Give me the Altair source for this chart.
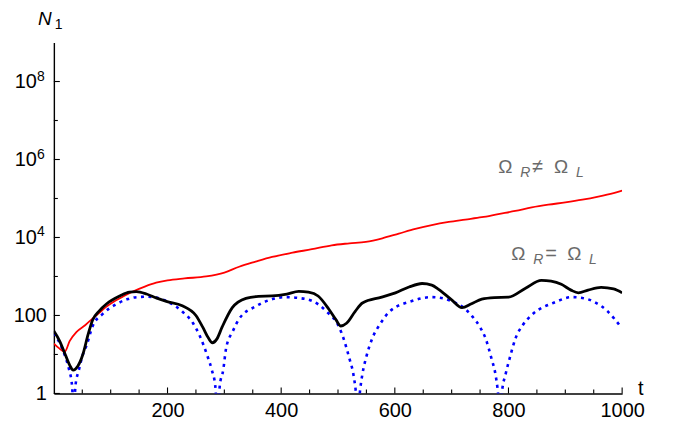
import altair as alt
import pandas as pd

# ---- data (t, log10 N) ----
red_t = [0, 10, 19, 28, 40, 55, 68, 80, 92, 106, 121, 140, 160, 180, 200, 230, 268, 300,
         326, 355, 384, 420, 454, 489, 520, 549, 578, 607, 636, 665, 695, 724, 753, 782,
         812, 841, 870, 900, 930, 958, 985, 1000]
red_log = [1.28, 1.15, 1.07, 1.35, 1.58, 1.75, 1.92, 2.07, 2.22, 2.36, 2.48, 2.62, 2.74, 2.84,
           2.9, 2.95, 3.0, 3.1, 3.25, 3.38, 3.5, 3.61, 3.7, 3.8, 3.85, 3.89, 3.98, 4.1, 4.22,
           4.32, 4.4, 4.46, 4.52, 4.6, 4.68, 4.77, 4.84, 4.9, 4.97, 5.05, 5.14, 5.2]

black_t = [0, 10, 20, 28, 34, 42, 51, 60, 68, 80, 93, 116, 133, 145, 163, 180, 198, 226, 250,
           262, 272, 279, 287, 296, 314, 338, 360, 384, 410, 431, 448, 465, 484, 496, 505,
           515, 530, 543, 577, 601, 625, 648, 665, 677, 700, 718, 735, 753, 775, 800, 830,
           858, 875, 893, 910, 923, 940, 963, 985, 1000]
black_log = [1.6, 1.35, 1.0, 0.72, 0.6, 0.7, 1.0, 1.5, 1.88, 2.12, 2.3, 2.5, 2.6, 2.61, 2.55,
             2.45, 2.36, 2.25, 2.0, 1.7, 1.42, 1.3, 1.4, 1.7, 2.2, 2.44, 2.49, 2.5, 2.55, 2.62,
             2.6, 2.5, 2.16, 1.9, 1.73, 1.8, 2.1, 2.32, 2.47, 2.58, 2.73, 2.82, 2.78, 2.67,
             2.4, 2.2, 2.3, 2.42, 2.46, 2.47, 2.7, 2.9, 2.88, 2.8, 2.65, 2.58, 2.65, 2.72,
             2.68, 2.58]

blue_t = [0, 10, 20, 27, 32, 35, 38, 44, 50, 58, 68, 86, 110, 130, 146, 163, 174, 198, 226,
          245, 256, 270, 278, 284, 288, 292, 298, 303, 315, 326, 356, 380, 409, 430, 455, 480,
          502, 510, 520, 527, 531, 535, 539, 543, 550, 560, 575, 590, 630, 665, 700, 735, 750,
          760, 770, 777, 781, 785, 789, 795, 803, 812, 825, 840, 882, 911, 930, 952, 975, 998]
blue_log = [1.55, 1.3, 0.95, 0.6, 0.2, -0.5, 0.2, 0.6, 0.95, 1.25, 1.72, 2.04, 2.29, 2.42,
            2.47, 2.48, 2.47, 2.37, 2.1, 1.8, 1.5, 0.97, 0.6, 0.2, -0.5, 0.2, 0.6, 1.15, 1.6,
            1.91, 2.24, 2.4, 2.47, 2.45, 2.37, 2.1, 1.7, 1.4, 0.9, 0.5, 0.1, -0.5, 0.1, 0.5,
            0.95, 1.4, 1.8, 2.09, 2.37, 2.47, 2.37, 2.0, 1.7, 1.4, 0.9, 0.5, 0.1, -0.5, 0.1,
            0.5, 0.95, 1.4, 1.75, 2.0, 2.34, 2.47, 2.45, 2.34, 2.1, 1.7]

x_label_values = [200, 400, 600, 800, 1000]
x_minor_ticks = [50, 100, 150, 250, 300, 350, 450, 500, 550, 650, 700, 750, 850, 900, 950]
y_plain_vals = [1, 100]
y_plain_text = ["1", "100"]
y_pow_vals = [1e4, 1e6, 1e8]
y_pow_exp = ["4", "6", "8"]
y_minor_ticks = [10, 1e3, 1e5, 1e7]

# annotation anchors (t, log10 N)
ann1_t, ann1_log = 782, 5.65
ann2_t, ann2_log = 805, 3.43

W, H = 570, 352
FONT = "Liberation Sans"
FS = 20


def frame(ts, logs):
    return pd.DataFrame({"t": ts, "N": [10 ** v for v in logs]})


xs = alt.Scale(domain=[0, 1000], nice=False, zero=False)
ys = alt.Scale(type="log", domain=[1, 1e9], nice=False)
x_axis = alt.Axis(values=x_label_values, format="d", ticks=False, grid=False, title=None,
                  domainColor="black", domainWidth=1.4, labelFont=FONT, labelFontSize=FS,
                  labelColor="black", labelPadding=7, labelFlush=False)
y_axis = alt.Axis(labels=False, ticks=False, grid=False, title=None,
                  domainColor="black", domainWidth=1.4)


def X():
    return alt.X("t:Q", scale=xs, axis=x_axis)


def Y():
    return alt.Y("N:Q", scale=ys, axis=y_axis)


blue = alt.Chart(frame(blue_t, blue_log)).mark_line(
    color="#0000ff", strokeWidth=2.6, strokeDash=[3, 4.5], clip=True, interpolate="monotone"
).encode(x=X(), y=Y())
red = alt.Chart(frame(red_t, red_log)).mark_line(
    color="#ff0000", strokeWidth=1.8, clip=True, interpolate="monotone"
).encode(x=X(), y=Y())
black = alt.Chart(frame(black_t, black_log)).mark_line(
    color="black", strokeWidth=2.8, clip=True, interpolate="monotone"
).encode(x=X(), y=Y())

# inward ticks
ymaj = alt.Chart(pd.DataFrame({"N": y_plain_vals + y_pow_vals})).mark_rule(
    color="black", strokeWidth=1.1).encode(y=Y(), x=alt.value(0), x2=alt.value(6))
ymin = alt.Chart(pd.DataFrame({"N": y_minor_ticks})).mark_rule(
    color="black", strokeWidth=1.1).encode(y=Y(), x=alt.value(0), x2=alt.value(4))
xmaj = alt.Chart(pd.DataFrame({"t": x_label_values})).mark_rule(
    color="black", strokeWidth=1.1).encode(x=X(), y=alt.value(H), y2=alt.value(H - 6))
xmin = alt.Chart(pd.DataFrame({"t": x_minor_ticks})).mark_rule(
    color="black", strokeWidth=1.1).encode(x=X(), y=alt.value(H), y2=alt.value(H - 4))

# y labels
ylab_plain = alt.Chart(pd.DataFrame({"N": y_plain_vals, "s": y_plain_text})).mark_text(
    align="right", baseline="middle", font=FONT, fontSize=FS, color="black", dy=1
).encode(y=Y(), x=alt.value(-7), text="s:N")
ylab_base = alt.Chart(pd.DataFrame({"N": y_pow_vals, "s": ["10"] * 3})).mark_text(
    align="right", baseline="middle", font=FONT, fontSize=FS, color="black", dy=1
).encode(y=Y(), x=alt.value(-17), text="s:N")
ylab_exp = alt.Chart(pd.DataFrame({"N": y_pow_vals, "s": y_pow_exp})).mark_text(
    align="right", baseline="middle", font=FONT, fontSize=14, color="black", dy=-5
).encode(y=Y(), x=alt.value(-9), text="s:N")

# axis titles
title_N = alt.Chart(pd.DataFrame({"s": ["N"]})).mark_text(
    align="left", baseline="alphabetic", font=FONT, fontSize=19, fontStyle="italic",
    color="black").encode(x=alt.value(-16), y=alt.value(-18), text="s:N")
title_1 = alt.Chart(pd.DataFrame({"s": ["1"]})).mark_text(
    align="left", baseline="alphabetic", font=FONT, fontSize=14, color="black"
).encode(x=alt.value(1), y=alt.value(-14), text="s:N")
title_t = alt.Chart(pd.DataFrame({"s": ["t"]})).mark_text(
    align="left", baseline="alphabetic", font=FONT, fontSize=FS, color="black"
).encode(x=alt.value(586), y=alt.value(354), text="s:N")

# annotations
GRAY = "#6a6a6a"


def annotation(t0, lg, op):
    df = pd.DataFrame({"t": [t0], "N": [10 ** lg]})
    pieces = [("Ω", 0, 0, 19, "normal"), ("R", 22, 4, 14, "italic"), (op, 34, 0, 20, "normal"),
              ("Ω", 56, 0, 19, "normal"), ("L", 78, 4, 14, "italic")]
    layers = []
    for txt, dx, dy, fs, st in pieces:
        layers.append(alt.Chart(df).mark_text(
            text=txt, align="left", baseline="alphabetic", dx=dx, dy=dy, font=FONT,
            fontSize=fs, fontStyle=st, color=GRAY).encode(x=X(), y=Y()))
    return layers


layers = [blue, red, black, ymaj, ymin, xmaj, xmin, ylab_plain, ylab_base, ylab_exp,
          title_N, title_1, title_t] + annotation(ann1_t, ann1_log, "≠") + \
    annotation(ann2_t, ann2_log, "=")

chart = alt.layer(*layers).properties(
    width=W, height=H,
    autosize=alt.AutoSizeParams(type="none"),
    padding={"left": 46, "top": 34, "right": 45, "bottom": 26},
    background="white",
).configure_view(stroke=None)

chart.save("out.html", embed_options={"renderer": "svg", "actions": False})
